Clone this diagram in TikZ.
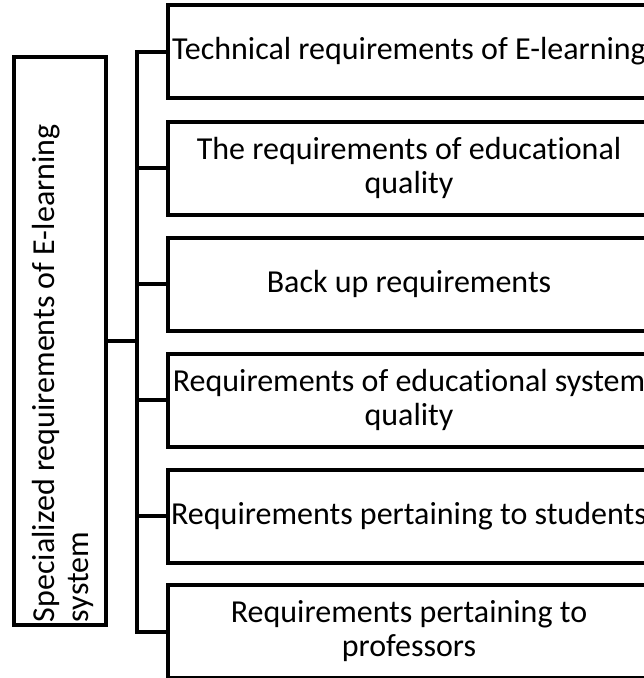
\documentclass[tikz,border=0pt]{standalone}
\usepackage{fontspec}
\setmainfont{Carlito}[Ligatures=NoCommon]
\begin{document}
\begin{tikzpicture}[x=1pt,y=-1pt,line width=4pt,
  txt/.style={font=\fontsize{32}{34}\selectfont},
  box/.style={draw,line width=4pt,minimum width=482pt,minimum height=93pt,inner sep=0pt,align=center,txt},
  conn/.style={draw,line width=4pt,line join=miter}]
\useasboundingbox (0,0) rectangle (644,678);
\clip (0,0) rectangle (644,678);
\node[box] (b1) at (409,51.5) {Technical requirements of E-learning};
\node[box] (b2) at (409,168) {The requirements of educational\\quality};
\node[box] (b3) at (409,284) {Back up requirements};
\node[box] (b4) at (409,400) {Requirements of educational system\\quality};
\node[box] (b5) at (409,516) {Requirements pertaining to students};
\node[box] (b6) at (409,631.5) {Requirements pertaining to\\professors};
\node[draw,line width=4pt,minimum width=92pt,minimum height=568pt,inner sep=0pt] (L) at (60,341) {};
\node[rotate=90,anchor=north west,inner sep=0pt,align=left,txt] (Lt) at (30,624) {Specialized requirements of E-learning\\system};
\coordinate (sp) at (137,341);
\draw[conn] (L.east) -- (sp);
\draw[conn] (b1.west) -- (b1.west -| sp) -- (b6.west -| sp) -- (b6.west);
\foreach \b in {b2,b3,b4,b5} {\draw[conn] (\b.west) -- (\b.west -| sp);}
\end{tikzpicture}
\end{document}
